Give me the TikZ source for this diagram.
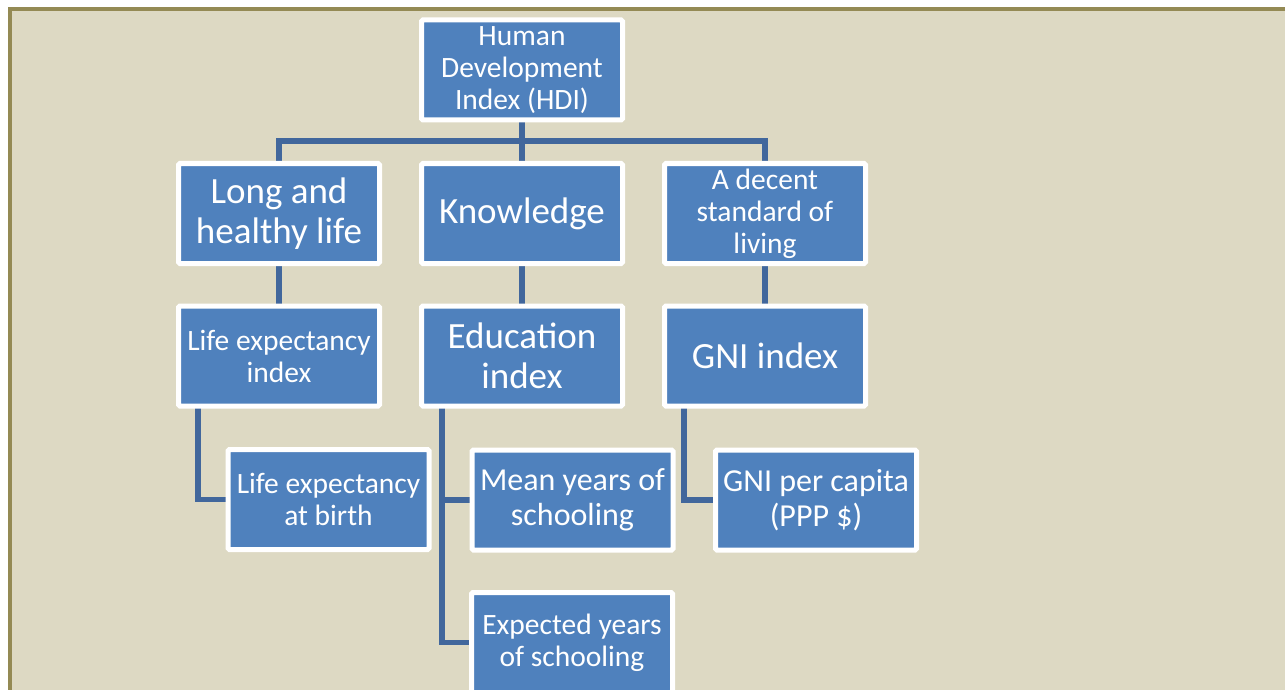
\documentclass[tikz,border=0pt]{standalone}
\usepackage{fontspec}
\setmainfont{Carlito}
\definecolor{pagebeige}{HTML}{DDD9C3}
\definecolor{frameolive}{HTML}{948A54}
\definecolor{boxblue}{HTML}{4F81BD}
\definecolor{linkblue}{HTML}{41679C}
\pgfdeclarelayer{paper}
\pgfdeclarelayer{links}
\pgfsetlayers{paper,links,main}
\tikzset{
  box/.style={draw=white, line width=5pt, fill=boxblue, text=white,
    rounded corners=1.5pt, inner sep=0pt, outer sep=0pt, align=center,
    minimum width=201pt, minimum height=100pt},
  small/.style={font=\fontsize{29.5}{32}\selectfont},
  medium/.style={font=\fontsize{32}{35}\selectfont},
  large/.style={font=\fontsize{37}{40}\selectfont},
  conn/.style={draw=linkblue, line width=5.5pt}
}
\begin{document}
\begin{tikzpicture}[x=1pt, y=-1pt]
\useasboundingbox (0,0) rectangle (1285,690);
\clip (0,0) rectangle (1285,690);

% hierarchy boxes
\node[box, small] (hdi) at (522,70) {Human\\Development\\Index (HDI)};
\node[box, large] (long) at (279,213.5) {Long and\\healthy life};
\node[box, large] (know) at (522,213.5) {Knowledge};
\node[box, small] (decent) at (765,213.5) {A decent\\standard of\\living};
\node[box, small] (lei) at (279,356) {Life expectancy\\index};
\node[box, large] (edu) at (522,356) {Education\\index};
\node[box, large] (gnii) at (765,356) {GNI index};
\node[box, small] (birth) at (328.5,499.5) {Life expectancy\\at birth};
\node[box, medium] (mean) at (572.5,500) {Mean years of\\schooling};
\node[box, small] (expected) at (572,642.5) {Expected years\\of schooling};
\node[box, medium] (gnipc) at (816,500) {GNI per capita\\(PPP \$)};

% page and frame
\begin{pgfonlayer}{paper}
  \fill[white] (0,0) rectangle (1285,690);
  \draw[frameolive, line width=4pt, fill=pagebeige] (10,9) rectangle (1300,710);
\end{pgfonlayer}

% connectors
\begin{pgfonlayer}{links}
  \coordinate (bus) at (0,141);
  \draw[conn] (hdi.south) -- (hdi.south |- bus);
  \draw[conn] (long.north) -- (long.north |- bus) -| (decent.north);
  \draw[conn] (know.north) -- (know.north |- bus);
  \draw[conn] (long) -- (lei);
  \draw[conn] (know) -- (edu);
  \draw[conn] (decent) -- (gnii);
  \draw[conn] ([xshift=19.5pt]lei.south west) |- (birth.west);
  \draw[conn] ([xshift=20.5pt]edu.south west) |- (mean.west);
  \draw[conn] ([xshift=20.5pt]edu.south west) |- (expected.west);
  \draw[conn] ([xshift=19.5pt]gnii.south west) |- (gnipc.west);
\end{pgfonlayer}
\end{tikzpicture}
\end{document}
